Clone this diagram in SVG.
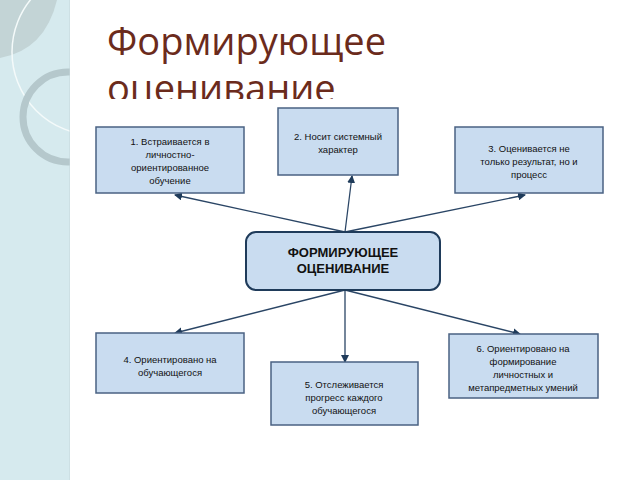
<svg xmlns="http://www.w3.org/2000/svg" width="640" height="480" viewBox="0 0 640 480">
<defs>
<marker id="ah" markerWidth="8" markerHeight="8" refX="7" refY="4" orient="auto" markerUnits="userSpaceOnUse"><path d="M0,0 L8,4 L0,8 z" fill="#1f3b5a"/></marker>
<clipPath id="tc"><rect x="0" y="0" width="640" height="99"/></clipPath>
<clipPath id="sc"><rect x="0" y="0" width="70" height="480"/></clipPath>
</defs>
<style>
.b{fill:#c9dcf0;stroke:#4a6283;stroke-width:1.5}
.t{font-family:"Liberation Sans",Arial,sans-serif;font-size:9.5px;fill:#111;text-anchor:middle}
.h{font-size:13px;font-weight:bold}
.c{stroke:#2a4565;stroke-width:1.3;fill:none;marker-end:url(#ah)}
</style>
<rect width="640" height="480" fill="#fff"/>
<g clip-path="url(#sc)">
<rect width="70" height="480" fill="#d6eaee"/>
<path d="M0,0 H57 Q45,50 0,58 Z" fill="#c3d4d6"/>
<circle cx="95" cy="52" r="83" fill="none" stroke="#f4fafa" stroke-width="1.5"/>
<circle cx="68" cy="117" r="45" fill="none" stroke="#b5c8cc" stroke-width="7"/>
<line x1="70" y1="0" x2="70" y2="480" stroke="#c4d6da"/>
</g>
<g clip-path="url(#tc)" font-family="'Open Sans','Liberation Sans',sans-serif" font-size="38" fill="#6b2b1c">
<text x="107" y="55">Формирующее</text>
<text x="107" y="102">оценивание</text>
</g>
<g id="connectors">
<line class="c" x1="345" y1="232" x2="175" y2="195"/>
<line class="c" x1="345" y1="232" x2="352" y2="176"/>
<line class="c" x1="345" y1="232" x2="525" y2="195"/>
<line class="c" x1="345" y1="290" x2="175" y2="333"/>
<line class="c" x1="345" y1="290" x2="345" y2="362"/>
<line class="c" x1="345" y1="290" x2="520" y2="334"/>
</g>
<g id="n1"><rect class="b" x="96" y="127" width="148" height="66"/>
<text class="t" x="170" y="145">1. Встраивается в</text><text class="t" x="170" y="158">личностно-</text><text class="t" x="170" y="171">ориентированное</text><text class="t" x="170" y="184">обучение</text></g>
<g id="n2"><rect class="b" x="278" y="108" width="120" height="67"/>
<text class="t" x="338" y="140">2. Носит системный</text><text class="t" x="338" y="153">характер</text></g>
<g id="n3"><rect class="b" x="455" y="127" width="148" height="66"/>
<text class="t" x="529" y="152">3. Оценивается не</text><text class="t" x="529" y="165">только результат, но и</text><text class="t" x="529" y="178">процесс</text></g>
<g id="n0"><rect x="246" y="232" width="194" height="58" rx="10" fill="#c9dcf0" stroke="#1f3b5a" stroke-width="2"/>
<text class="t h" x="343" y="257">ФОРМИРУЮЩЕЕ</text><text class="t h" x="343" y="273">ОЦЕНИВАНИЕ</text></g>
<g id="n4"><rect class="b" x="96" y="333" width="148" height="60"/>
<text class="t" x="170" y="363">4. Ориентировано на</text><text class="t" x="170" y="376">обучающегося</text></g>
<g id="n5"><rect class="b" x="271" y="362" width="147" height="63"/>
<text class="t" x="344" y="388">5. Отслеживается</text><text class="t" x="344" y="401">прогресс каждого</text><text class="t" x="344" y="414">обучающегося</text></g>
<g id="n6"><rect class="b" x="449" y="334" width="149" height="64"/>
<text class="t" x="523" y="352">6. Ориентировано на</text><text class="t" x="523" y="365">формирование</text><text class="t" x="523" y="378">личностных и</text><text class="t" x="523" y="391">метапредметных умений</text></g>
</svg>
